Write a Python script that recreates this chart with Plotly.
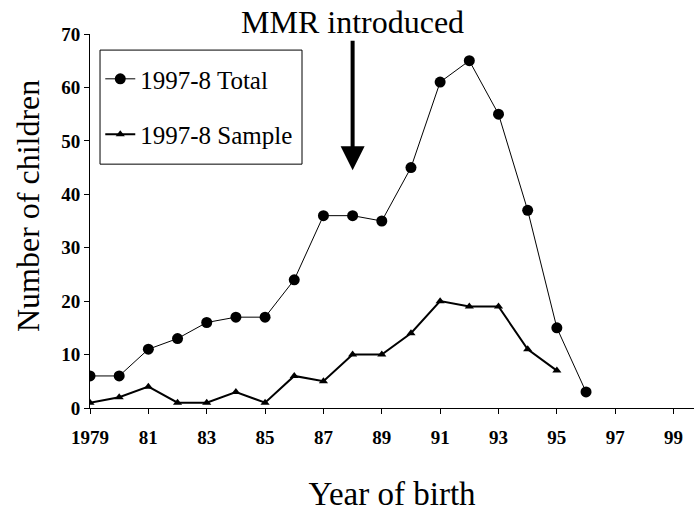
import plotly.graph_objects as go

years = [1979, 1980, 1981, 1982, 1983, 1984, 1985, 1986, 1987, 1988,
         1989, 1990, 1991, 1992, 1993, 1994, 1995, 1996]
total = [6, 6, 11, 13, 16, 17, 17, 24, 36, 36, 35, 45, 61, 65, 55, 37, 15, 3]

sample_years = years[:-1]
sample = [1, 2, 4, 1, 1, 3, 1, 6, 5, 10, 10, 14, 20, 19, 19, 11, 7]

x_tickvals = [1979, 1981, 1983, 1985, 1987, 1989, 1991, 1993, 1995, 1997, 1999]
x_ticktext = ["1979", "81", "83", "85", "87", "89", "91", "93", "95", "97", "99"]
y_tickvals = [0, 10, 20, 30, 40, 50, 60, 70]

mmr_year = 1988

serif = "Liberation Serif, Times New Roman, serif"

fig = go.Figure()
fig.add_trace(go.Scatter(
    x=years, y=total, name="1997-8 Total", mode="lines+markers",
    line=dict(color="black", width=1),
    marker=dict(symbol="circle", size=11, color="black"),
    legendgroup="a",
))
fig.add_trace(go.Scatter(
    x=sample_years, y=sample, name="1997-8 Sample", mode="lines+markers",
    line=dict(color="black", width=2),
    marker=dict(symbol="triangle-up", size=8, color="black"),
    legendgroup="b",
))

# arrow marking the introduction of MMR
fig.add_annotation(
    x=mmr_year, y=44.5, ax=mmr_year, ay=69, xref="x", yref="y",
    axref="x", ayref="y", text="", showarrow=True,
    arrowhead=2, arrowsize=1.2, arrowwidth=4, arrowcolor="black",
)
fig.add_annotation(
    x=mmr_year, y=1.0, xref="x", yref="paper", yanchor="bottom", yshift=-8,
    text="MMR introduced", showarrow=False,
    font=dict(family=serif, size=32, color="black"),
)

# y-axis title, set a little below the centre of the axis
fig.add_annotation(
    x=-0.1026, y=0.54, xref="paper", yref="paper",
    xanchor="center", yanchor="middle", textangle=-90,
    text="Number of children", showarrow=False,
    font=dict(family=serif, size=32, color="black"),
)

# frame around the legend, with roomier padding than the built-in border
fig.add_shape(
    type="rect", xref="paper", yref="paper",
    x0=0.0166, x1=0.351, y0=0.652, y1=0.957,
    line=dict(color="black", width=1), fillcolor="white", layer="below",
)

fig.update_layout(
    width=694, height=512,
    margin=dict(l=90, r=0, t=34, b=104),
    paper_bgcolor="white", plot_bgcolor="white",
    showlegend=True,
    legend=dict(
        x=0.017, y=0.941, xanchor="left", yanchor="top",
        borderwidth=0, bgcolor="rgba(0,0,0,0)",
        font=dict(family=serif, size=25, color="black"),
        tracegroupgap=20, itemwidth=30,
    ),
    xaxis=dict(
        range=[1979, 1999.7], tickvals=x_tickvals, ticktext=x_ticktext,
        showgrid=False, zeroline=False, showline=True, linecolor="black",
        linewidth=1, ticks="outside", ticklen=5, tickcolor="black",
        ticklabelstandoff=7,
        tickfont=dict(family=serif, size=19, color="black", weight="bold"),
        title=dict(text="Year of birth", font=dict(family=serif, size=33, color="black"),
                   standoff=36),
    ),
    yaxis=dict(
        range=[0, 70], tickvals=y_tickvals,
        showgrid=False, zeroline=False, showline=True, linecolor="black",
        linewidth=1, ticks="outside", ticklen=5, tickcolor="black",
        tickfont=dict(family=serif, size=19, color="black", weight="bold"),
    ),
)

fig.write_html("out.html")
